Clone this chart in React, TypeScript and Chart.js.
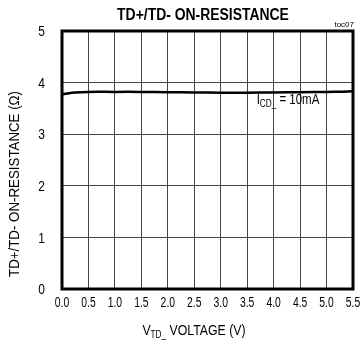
import React, { useEffect, useRef } from "react";
import { Chart, registerables } from "chart.js";

Chart.register(...registerables);

const voltages = [0.0, 0.1, 0.25, 0.5, 1.0, 1.5, 2.0, 2.5, 3.0, 3.5, 4.0, 4.5, 5.0, 5.3, 5.5];
const resistance = [3.77, 3.79, 3.81, 3.82, 3.82, 3.82, 3.815, 3.81, 3.805, 3.805, 3.81, 3.815, 3.82, 3.825, 3.83];
const xTicks = [0, 0.5, 1, 1.5, 2, 2.5, 3, 3.5, 4, 4.5, 5, 5.5];
const yTicks = [0, 1, 2, 3, 4, 5];

const FONT = "'Liberation Sans', Arial, sans-serif";

function narrowText(ctx: any, text: string, x: number, y: number, font: string, align: string, sx: number, rot = 0) {
  ctx.save();
  ctx.translate(x, y);
  if (rot) ctx.rotate(rot);
  ctx.scale(sx, 1);
  ctx.font = font;
  ctx.textAlign = align;
  ctx.textBaseline = "middle";
  ctx.fillText(text, 0, 0);
  ctx.restore();
}

const textPlugin = {
  id: "texts",
  afterDraw(chart: any) {
    const ctx = chart.ctx;
    const a = chart.chartArea;
    ctx.save();
    ctx.strokeStyle = "#000";
    ctx.lineWidth = 3;
    ctx.strokeRect(a.left, a.top, a.right - a.left, a.bottom - a.top);
    ctx.fillStyle = "#000";
    const xs = chart.scales.x;
    for (const t of xs.ticks) {
      narrowText(ctx, Number(t.value).toFixed(1), xs.getPixelForValue(t.value), a.bottom + 14, `14px ${FONT}`, "center", 0.74);
    }
    const ys = chart.scales.y;
    for (const t of ys.ticks) {
      narrowText(ctx, String(t.value), a.left - 17, ys.getPixelForValue(t.value) + 1, `15px ${FONT}`, "right", 0.8);
    }
    narrowText(ctx, "TD+/TD- ON-RESISTANCE", 203, 16, `bold 16px ${FONT}`, "center", 0.87);
    narrowText(ctx, "toc07", 354, 25, `8px ${FONT}`, "right", 1);
    narrowText(ctx, "TD+/TD- ON-RESISTANCE (\u03A9)", 15, 184, `14px ${FONT}`, "center", 0.95, -Math.PI / 2);
    const drawSub = (parts: [string, boolean][], cx: number, by: number, big: number, small: number, sx: number) => {
      ctx.save();
      let w = 0;
      for (const [t, sub] of parts) {
        ctx.font = `${sub ? small : big}px ${FONT}`;
        w += ctx.measureText(t).width;
      }
      ctx.translate(cx - (w * sx) / 2, by);
      ctx.scale(sx, 1);
      let x = 0;
      ctx.textAlign = "left";
      ctx.textBaseline = "alphabetic";
      for (const [t, sub] of parts) {
        ctx.font = `${sub ? small : big}px ${FONT}`;
        ctx.fillText(t, x, sub ? 3 : 0);
        x += ctx.measureText(t).width;
      }
      ctx.restore();
    };
    drawSub([["V", false], ["TD_", true], [" VOLTAGE (V)", false]], 194, 335, 15, 10, 0.82);
    drawSub([["I", false], ["CD_", true], [" = 10mA", false]], 288, 104, 14, 10, 0.82);
    ctx.restore();
  },
};

export default function App() {
  const ref = useRef<HTMLCanvasElement>(null);
  useEffect(() => {
    if (!ref.current) return;
    const chart = new Chart(ref.current, {
      type: "scatter",
      data: {
        datasets: [
          {
            data: voltages.map((v, i) => ({ x: v, y: resistance[i] })),
            showLine: true,
            borderColor: "#000",
            borderWidth: 2.5,
            pointRadius: 0,
            tension: 0.4,
          },
        ],
      },
      options: {
        animation: false,
        responsive: false,
        layout: { padding: { top: 31, right: 9, left: 0, bottom: 0 } },
        plugins: { legend: { display: false }, tooltip: { enabled: false } },
        scales: {
          x: {
            type: "linear",
            min: 0,
            max: 5.5,
            afterBuildTicks: (s: any) => {
              s.ticks = xTicks.map((v) => ({ value: v }));
            },
            afterFit: (s: any) => {
              s.height = 53;
            },
            grid: { color: "#444", lineWidth: 1, drawTicks: false },
            border: { display: false },
            ticks: { display: false },
          },
          y: {
            min: 0,
            max: 5,
            afterBuildTicks: (s: any) => {
              s.ticks = yTicks.map((v) => ({ value: v }));
            },
            afterFit: (s: any) => {
              s.width = 62;
            },
            grid: { color: "#444", lineWidth: 1, drawTicks: false },
            border: { display: false },
            ticks: { display: false },
          },
        },
      },
      plugins: [textPlugin],
    });
    return () => chart.destroy();
  }, []);
  return (
    <div style={{ position: "fixed", left: 0, top: 0, width: 362, height: 342, background: "#fff" }}>
      <canvas ref={ref} width={362} height={342} style={{ width: 362, height: 342 }} />
    </div>
  );
}
